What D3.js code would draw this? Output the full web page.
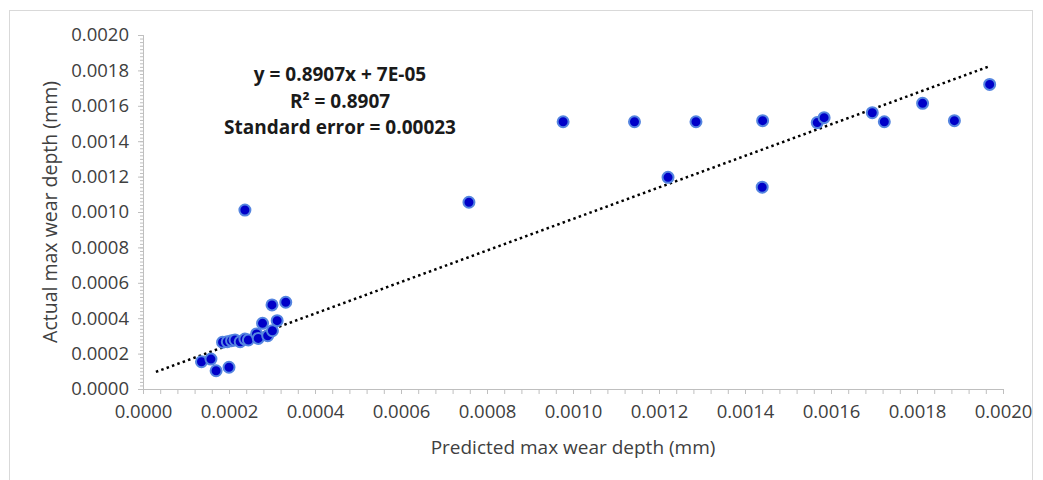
<!DOCTYPE html>
<meta charset="utf-8">
<title>Predicted vs actual wear depth</title>
<style>
body { margin: 0; background: #fff; }
text { font-family: "Open Sans", sans-serif; }
</style>
<body>
<script src="https://d3js.org/d3.v7.min.js"></script>
<script>

// predicted (x) and actual (y) max wear depth, mm
var predicted = [0.000136, 0.000158, 0.000170, 0.000200, 0.000185, 0.000196, 0.000206, 0.000214,
  0.000226, 0.000237, 0.000245, 0.000264, 0.000268, 0.000278, 0.000290, 0.000301, 0.000312,
  0.000300, 0.000332, 0.000237, 0.000758, 0.000977, 0.001143, 0.001286, 0.001441, 0.001568,
  0.001584, 0.001696, 0.001724, 0.001813, 0.001887, 0.001969, 0.001221, 0.001440];
var actual = [0.000154, 0.000169, 0.000103, 0.000123, 0.000264, 0.000267, 0.000273, 0.000277,
  0.000267, 0.000282, 0.000277, 0.000311, 0.000286, 0.000371, 0.000301, 0.000329, 0.000386,
  0.000475, 0.000490, 0.001011, 0.001055, 0.001510, 0.001510, 0.001510, 0.001516, 0.001505,
  0.001533, 0.001561, 0.001510, 0.001614, 0.001516, 0.001721, 0.001196, 0.001140];

var slope = 0.8907, intercept = 0.00007;
var trendFrom = 0.00003, trendTo = 0.001969;
var annotation = ["y = 0.8907x + 7E-05", "R\u00b2 = 0.8907", "Standard error = 0.00023"];
var xTitle = "Predicted max wear depth (mm)",
    yTitle = "Actual max wear depth (mm)";

var width = 1043, height = 480;
var svg = d3.select("body").append("svg")
    .attr("width", width)
    .attr("height", height);

svg.append("rect")
    .attr("x", 9.5).attr("y", 10.5)
    .attr("width", 1023).attr("height", 480)
    .attr("fill", "#fff").attr("stroke", "#d9d9d9");

var x = d3.scaleLinear().domain([0, 0.002]).range([143, 1003]);
var y = d3.scaleLinear().domain([0, 0.002]).range([389, 35]);

var fmt = d3.format(".4f");
var majors = d3.range(0, 0.00201, 0.0002);

// y axis: minor ticks then major ticks with labels
var gy = svg.append("g").attr("transform", "translate(143,0)");
gy.call(d3.axisLeft(y).tickValues(d3.range(0, 0.002001, 0.00002)).tickSize(3).tickFormat(""));
gy.append("g").call(d3.axisLeft(y).tickValues(majors).tickSize(5).tickPadding(9).tickFormat(fmt));

var gx = svg.append("g").attr("transform", "translate(0,389)");
gx.call(d3.axisBottom(x).tickValues(d3.range(0, 0.002001, 0.00004)).tickSize(5).tickFormat(""));
gx.append("g").call(d3.axisBottom(x).tickValues(majors).tickSize(5).tickPadding(11).tickFormat(fmt));

svg.selectAll(".domain, .tick line").attr("stroke", "#bfbfbf");
svg.selectAll(".tick text")
    .attr("fill", "#404040")
    .style("font-size", "18.5px")
    .style("font-family", "'Open Sans', sans-serif");

// axis titles
svg.append("text")
    .attr("x", 573).attr("y", 454)
    .attr("text-anchor", "middle")
    .attr("fill", "#404040")
    .style("font-size", "19px")
    .text(xTitle);

svg.append("text")
    .attr("transform", "translate(57,212) rotate(-90)")
    .attr("text-anchor", "middle")
    .attr("fill", "#404040")
    .style("font-size", "19.5px")
    .text(yTitle);

// trendline
var line = d3.line().x(function(d) { return x(d); }).y(function(d) { return y(slope * d + intercept); });
svg.append("path")
    .attr("d", line([trendFrom, trendTo]))
    .attr("fill", "none")
    .attr("stroke", "#000")
    .attr("stroke-width", 2.5)
    .attr("stroke-dasharray", "2.5,3.2");

// points
svg.append("g").selectAll("circle")
  .data(predicted)
  .enter().append("circle")
    .attr("cx", function(d) { return x(d); })
    .attr("cy", function(d, i) { return y(actual[i]); })
    .attr("r", 5.5)
    .attr("fill", "#0000c8")
    .attr("stroke", "#5585e0")
    .attr("stroke-width", 2);

// regression annotation
svg.append("g").selectAll("text")
  .data(annotation)
  .enter().append("text")
    .attr("x", 340)
    .attr("y", function(d, i) { return 81 + i * 26.5; })
    .attr("text-anchor", "middle")
    .attr("fill", "#1a1a1a")
    .style("font-size", "19px")
    .style("font-weight", "bold")
    .text(function(d) { return d; });

</script>
</body>
